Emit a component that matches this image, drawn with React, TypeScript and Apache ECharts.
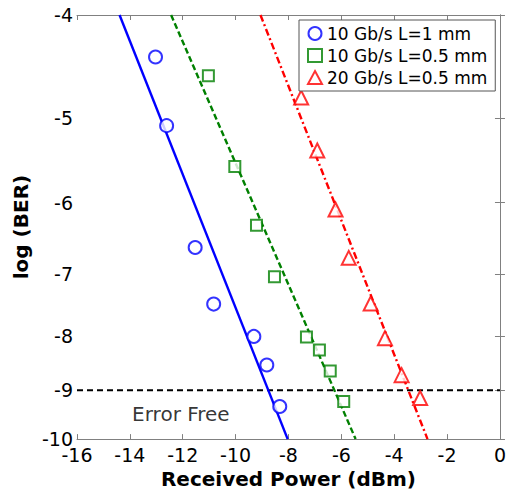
import React, { useEffect, useRef } from "react";
import * as echarts from "echarts";

// Measured points: [received power (dBm), log(BER)]
const blueX = [-13.03, -12.61, -11.53, -10.83, -9.31, -8.82, -8.33];
const blueY = [-4.38, -5.08, -6.61, -7.47, -8.01, -8.52, -9.32];
const greenX = [-11.03, -10.03, -9.21, -8.53, -7.32, -6.83, -6.42, -5.91];
const greenY = [-4.56, -5.55, -6.3, -7.04, -8.02, -8.25, -8.63, -9.22];
const redX = [-7.52, -6.91, -6.22, -5.72, -4.89, -4.35, -3.72, -3.02];
const redY = [-4.78, -5.36, -6.09, -6.76, -7.46, -8.04, -8.71, -9.15];
// Fit lines (endpoints)
const blueFitX = [-14.39, -8.03];
const greenFitX = [-12.44, -5.46];
const redFitX = [-9.06, -2.74];
const fitY = [-4, -10];
const errorFreeLevel = -9;
const errorFreeTextPos = [-12.07, -9.48];
const yTicks = [-4, -5, -6, -7, -8, -9, -10];
const seriesNames = ["10 Gb/s L=1 mm", "10 Gb/s L=0.5 mm", "20 Gb/s L=0.5 mm"];

const FONT = "DejaVu Sans, Verdana, sans-serif";

const toPts = (xs: number[], ys: number[]) => xs.map((x, i) => [x, -ys[i]]);

export default function App() {
  const ref = useRef<HTMLDivElement>(null);
  useEffect(() => {
    if (!ref.current) return;
    const chart = echarts.init(ref.current, null, { renderer: "svg" });
    const yCustom = yTicks.map((v) => -v);
    const axisLineStyle = { color: "#808080", width: 1 };
    const yAxisBase = {
      type: "log" as const,
      min: 4,
      max: 10,
      inverse: true,
      axisLine: { show: true, lineStyle: axisLineStyle },
      axisTick: { show: true, inside: true, length: 5, customValues: yCustom, lineStyle: axisLineStyle },
      splitLine: { show: false },
      minorTick: { show: false },
    };
    const xAxisBase = {
      type: "value" as const,
      min: -16,
      max: 0,
      interval: 2,
      axisLine: { show: true, onZero: false, lineStyle: axisLineStyle },
      axisTick: { show: true, inside: true, length: 5, lineStyle: axisLineStyle },
      splitLine: { show: false },
    };
    chart.setOption({
      animation: false,
      backgroundColor: "#ffffff",
      textStyle: { fontFamily: FONT },
      grid: { left: 77, right: 6, top: 15, bottom: 51 },
      legend: {
        data: [
          { name: seriesNames[0], icon: "emptyCircle" },
          { name: seriesNames[1], icon: "emptyRect" },
          { name: seriesNames[2], icon: "emptyTriangle" },
        ],
        orient: "vertical",
        left: 299,
        top: 20,
        itemWidth: 14,
        itemHeight: 13,
        itemGap: 5,
        padding: [5, 8, 5, 8],
        backgroundColor: "#ffffff",
        borderColor: "#555555",
        borderWidth: 1,
        borderRadius: 0,
        textStyle: { fontFamily: FONT, fontSize: 17, color: "#000" },
      },
      xAxis: [
        {
          ...xAxisBase,
          position: "bottom",
          name: "Received Power (dBm)",
          nameLocation: "middle",
          nameGap: 28,
          nameTextStyle: { fontFamily: FONT, fontSize: 20, fontWeight: "bold", color: "#000" },
          axisLabel: { fontFamily: FONT, fontSize: 19, color: "#000", margin: 6 },
        },
        {
          ...xAxisBase,
          position: "top",
          axisLabel: { show: false },
        },
      ],
      yAxis: [
        {
          ...yAxisBase,
          position: "left",
          name: "log (BER)",
          nameLocation: "middle",
          nameGap: 42,
          nameTextStyle: { fontFamily: FONT, fontSize: 20, fontWeight: "bold", color: "#000" },
          axisLabel: {
            customValues: yCustom,
            fontFamily: FONT,
            fontSize: 19,
            color: "#000",
            margin: 4,
            formatter: (v: number) => String(-Math.round(v)),
          },
        },
        {
          ...yAxisBase,
          position: "right",
          axisLabel: { show: false, customValues: yCustom },
        },
      ],
      series: [
        {
          name: "fitBlue",
          type: "line",
          data: toPts(blueFitX, fitY),
          symbol: "none",
          lineStyle: { color: "#0000ff", width: 2.4 },
          z: 2,
        },
        {
          name: "fitGreen",
          type: "line",
          data: toPts(greenFitX, fitY),
          symbol: "none",
          lineStyle: { color: "#008000", width: 2.4, type: [6, 3] },
          z: 2,
        },
        {
          name: "fitRed",
          type: "line",
          data: toPts(redFitX, fitY),
          symbol: "none",
          lineStyle: { color: "#ff0000", width: 2.4, type: [7, 3, 2, 3] },
          z: 2,
        },
        {
          name: "errorFree",
          type: "line",
          data: [
            [-16, -errorFreeLevel],
            [0, -errorFreeLevel],
          ],
          symbol: "none",
          lineStyle: { color: "#000000", width: 2, type: [6, 4] },
          z: 1,
        },
        {
          name: "errorFreeLabel",
          type: "scatter",
          data: [[errorFreeTextPos[0], -errorFreeTextPos[1]]],
          symbolSize: 0,
          label: {
            show: true,
            position: "inside",
            formatter: "Error Free",
            fontFamily: FONT,
            fontSize: 20,
            color: "#000",
          },
          silent: true,
        },
        {
          name: seriesNames[0],
          type: "scatter",
          data: toPts(blueX, blueY),
          symbol: "emptyCircle",
          symbolSize: 13,
          itemStyle: { color: "#0000ff", borderColor: "#0000ff", borderWidth: 2 },
          z: 3,
        },
        {
          name: seriesNames[1],
          type: "scatter",
          data: toPts(greenX, greenY),
          symbol: "emptyRect",
          symbolSize: 11,
          itemStyle: { color: "#008000", borderColor: "#008000", borderWidth: 2 },
          z: 3,
        },
        {
          name: seriesNames[2],
          type: "scatter",
          data: toPts(redX, redY),
          symbol: "emptyTriangle",
          symbolSize: 14,
          itemStyle: { color: "#ff0000", borderColor: "#ff0000", borderWidth: 2 },
          z: 3,
        },
      ],
    });
    return () => chart.dispose();
  }, []);
  return <div ref={ref} style={{ width: 509, height: 494, position: "absolute", left: 0, top: 0 }} />;
}
